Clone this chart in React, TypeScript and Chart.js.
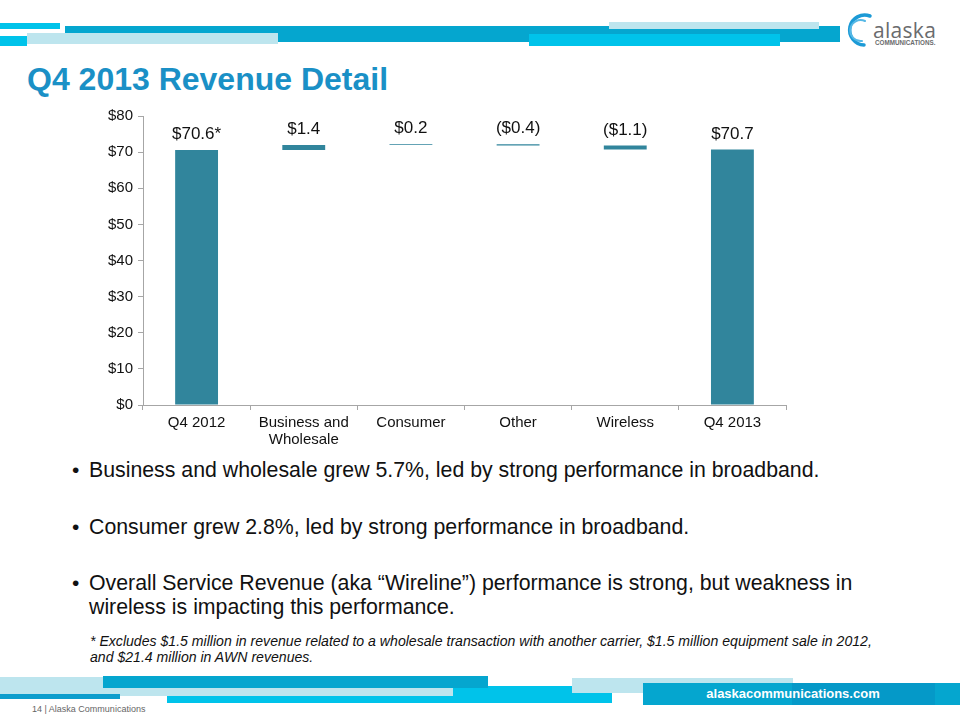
import React, { useEffect, useRef } from "react";
import { Chart, registerables } from "chart.js";

Chart.register(...registerables);

const categories: (string | string[])[] = [
  "Q4 2012",
  ["Business and", "Wholesale"],
  "Consumer",
  "Other",
  "Wireless",
  "Q4 2013",
];
const changes = [70.6, 1.4, 0.2, -0.4, -1.1, 70.7];
const isTotal = [true, false, false, false, false, true];
const valueLabels = ["$70.6*", "$1.4", "$0.2", "($0.4)", "($1.1)", "$70.7"];
const yTicks = [0, 10, 20, 30, 40, 50, 60, 70, 80];

const FONT = "'Liberation Sans', Arial, Helvetica, sans-serif";

function buildRanges(): [number, number][] {
  const out: [number, number][] = [];
  let running = 0;
  changes.forEach((c, i) => {
    if (isTotal[i]) {
      out.push([0, c]);
      running = c;
    } else {
      const next = running + c;
      out.push([Math.min(running, next), Math.max(running, next)]);
      running = next;
    }
  });
  return out;
}

const labelPlugin = {
  id: "barLabels",
  afterDatasetsDraw(chart: any) {
    const ctx = chart.ctx;
    const meta = chart.getDatasetMeta(0);
    ctx.save();
    ctx.font = `17px ${FONT}`;
    ctx.fillStyle = "#111";
    ctx.textAlign = "center";
    ctx.textBaseline = "bottom";
    meta.data.forEach((bar: any, i: number) => {
      const top = Math.min(bar.y, bar.base);
      ctx.fillText(valueLabels[i], bar.x, top - 7);
    });
    ctx.restore();
  },
};

function WaterfallChart() {
  const ref = useRef<HTMLCanvasElement | null>(null);
  useEffect(() => {
    if (!ref.current) return;
    Chart.defaults.font.family = FONT;
    const chart = new Chart(ref.current, {
      type: "bar",
      data: {
        labels: categories as any,
        datasets: [
          {
            data: buildRanges() as any,
            backgroundColor: "#31859c",
            borderColor: "#b7dee8",
            borderWidth: 0,
            borderSkipped: false,
            barPercentage: 0.4,
            categoryPercentage: 1.0,
          },
        ],
      },
      options: {
        animation: false,
        responsive: true,
        maintainAspectRatio: false,
        layout: { padding: { top: 16, right: 1, left: 0, bottom: 0 } },
        plugins: {
          legend: { display: false },
          tooltip: { enabled: false },
        },
        scales: {
          x: {
            grid: {
              offset: true,
              drawOnChartArea: false,
              drawTicks: true,
              tickLength: 5,
              color: "#a6a6a6",
            },
            border: { display: true, color: "#a6a6a6" },
            ticks: {
              color: "#111",
              font: { size: 15, family: FONT, lineHeight: 1.15 },
              padding: 4,
              maxRotation: 0,
              autoSkip: false,
            },
            afterFit: (scale: any) => {
              scale.height = 45;
            },
          },
          y: {
            min: yTicks[0],
            max: yTicks[yTicks.length - 1],
            grid: {
              drawOnChartArea: false,
              drawTicks: true,
              tickLength: 5,
              color: "#a6a6a6",
            },
            border: { display: true, color: "#a6a6a6" },
            ticks: {
              stepSize: 10,
              color: "#111",
              font: { size: 15, family: FONT },
              padding: 5,
              callback: (v: any) => `$${v}`,
            },
            afterBuildTicks: (scale: any) => {
              scale.ticks = yTicks.map((v) => ({ value: v }));
            },
            afterFit: (scale: any) => {
              scale.width = 53;
            },
          },
        },
      },
      plugins: [labelPlugin],
    });
    return () => chart.destroy();
  }, []);
  return <canvas ref={ref} />;
}

const abs = (
  left: number,
  top: number,
  width: number,
  height: number,
  background: string
): React.CSSProperties => ({
  position: "absolute",
  left,
  top,
  width,
  height,
  background,
});

const CYAN = "#05a6cf";
const BRIGHT = "#00c3ea";
const PALE = "#bde5ee";

export default function App() {
  const bulletText: React.CSSProperties = {
    position: "absolute",
    left: 89,
    fontFamily: FONT,
    fontSize: 21.3,
    lineHeight: "24px",
    color: "#111",
    whiteSpace: "nowrap",
  };
  const bulletDot: React.CSSProperties = {
    position: "absolute",
    left: 72,
    fontFamily: FONT,
    fontSize: 21,
    lineHeight: "24px",
    color: "#111",
  };
  return (
    <div
      style={{
        position: "absolute",
        left: 0,
        top: 0,
        width: 960,
        height: 720,
        overflow: "hidden",
        background: "#fff",
        fontFamily: FONT,
      }}
    >
      {/* header bars */}
      <div style={abs(0, 23, 60, 6, BRIGHT)} />
      <div style={abs(65, 26, 775, 16, CYAN)} />
      <div style={abs(609, 22, 210, 7, PALE)} />
      <div style={abs(27, 33, 251, 11, PALE)} />
      <div style={abs(0, 36, 27, 10, BRIGHT)} />
      <div style={abs(529, 34, 251, 12, BRIGHT)} />

      {/* logo */}
      <svg
        style={{ position: "absolute", left: 840, top: 4, width: 115, height: 50 }}
        viewBox="0 0 115 50"
      >
        <path
          d="M 30 12 A 15 15 0 1 0 24 41"
          fill="none"
          stroke="#1c9ad6"
          strokeWidth={3.5}
          strokeLinecap="round"
        />
        <path
          d="M 25 17 A 10.5 10.5 0 1 0 22 37"
          fill="none"
          stroke="#55b8e6"
          strokeWidth={2}
          strokeLinecap="round"
        />
        <text
          x={33}
          y={34}
          fontFamily="'Open Sans', sans-serif"
          fontSize={21}
          fill="#6a6b6d"
          letterSpacing={0.3}
        >
          alaska
        </text>
        <text
          x={35}
          y={41}
          fontFamily={FONT}
          fontSize={6.3}
          fontWeight="bold"
          fill="#6a6b6d"
        >
          COMMUNICATIONS.
        </text>
      </svg>

      {/* title */}
      <div
        style={{
          position: "absolute",
          left: 27,
          top: 59,
          fontFamily: FONT,
          fontWeight: "bold",
          fontSize: 32,
          lineHeight: "40px",
          color: "#1a90c6",
          whiteSpace: "nowrap",
        }}
      >
        Q4 2013 Revenue Detail
      </div>

      {/* chart */}
      <div style={{ position: "absolute", left: 90, top: 100, width: 697, height: 350 }}>
        <WaterfallChart />
      </div>

      {/* bullets */}
      <div style={{ ...bulletDot, top: 458 }}>•</div>
      <div style={{ ...bulletText, top: 458 }}>
        Business and wholesale grew 5.7%, led by strong performance in broadband.
      </div>
      <div style={{ ...bulletDot, top: 515 }}>•</div>
      <div style={{ ...bulletText, top: 515 }}>
        Consumer grew 2.8%, led by strong performance in broadband.
      </div>
      <div style={{ ...bulletDot, top: 571 }}>•</div>
      <div style={{ ...bulletText, top: 571 }}>
        Overall Service Revenue (aka “Wireline”) performance is strong, but weakness in
        <br />
        wireless is impacting this performance.
      </div>

      {/* footnote */}
      <div
        style={{
          position: "absolute",
          left: 90,
          top: 633,
          fontFamily: FONT,
          fontStyle: "italic",
          fontSize: 14.1,
          lineHeight: "16px",
          color: "#111",
          whiteSpace: "nowrap",
        }}
      >
        * Excludes $1.5 million in revenue related to a wholesale transaction with another
        carrier, $1.5 million equipment sale in 2012,
        <br />
        and $21.4 million in AWN revenues.
      </div>

      {/* footer bars */}
      <div style={abs(167, 686, 445, 17, BRIGHT)} />
      <div style={abs(0, 677, 103, 17, PALE)} />
      <div style={abs(103, 676, 385, 12, CYAN)} />
      <div style={abs(103, 688, 350, 8, PALE)} />
      <div style={abs(0, 694, 120, 5, "#0d9dcd")} />
      <div style={abs(572, 678, 221, 15, PALE)} />
      <div style={abs(643, 683, 317, 22, CYAN)} />
      <div style={abs(792, 683, 143, 22, "#0599c8")} />
      <div
        style={{
          position: "absolute",
          left: 643,
          top: 683,
          width: 300,
          height: 22,
          lineHeight: "22px",
          textAlign: "center",
          color: "#fff",
          fontFamily: FONT,
          fontWeight: "bold",
          fontSize: 13,
        }}
      >
        alaskacommunications.com
      </div>
      <div
        style={{
          position: "absolute",
          left: 32,
          top: 703,
          fontFamily: FONT,
          fontSize: 9,
          lineHeight: "12px",
          color: "#666",
          whiteSpace: "nowrap",
        }}
      >
        14 | Alaska Communications
      </div>
    </div>
  );
}
